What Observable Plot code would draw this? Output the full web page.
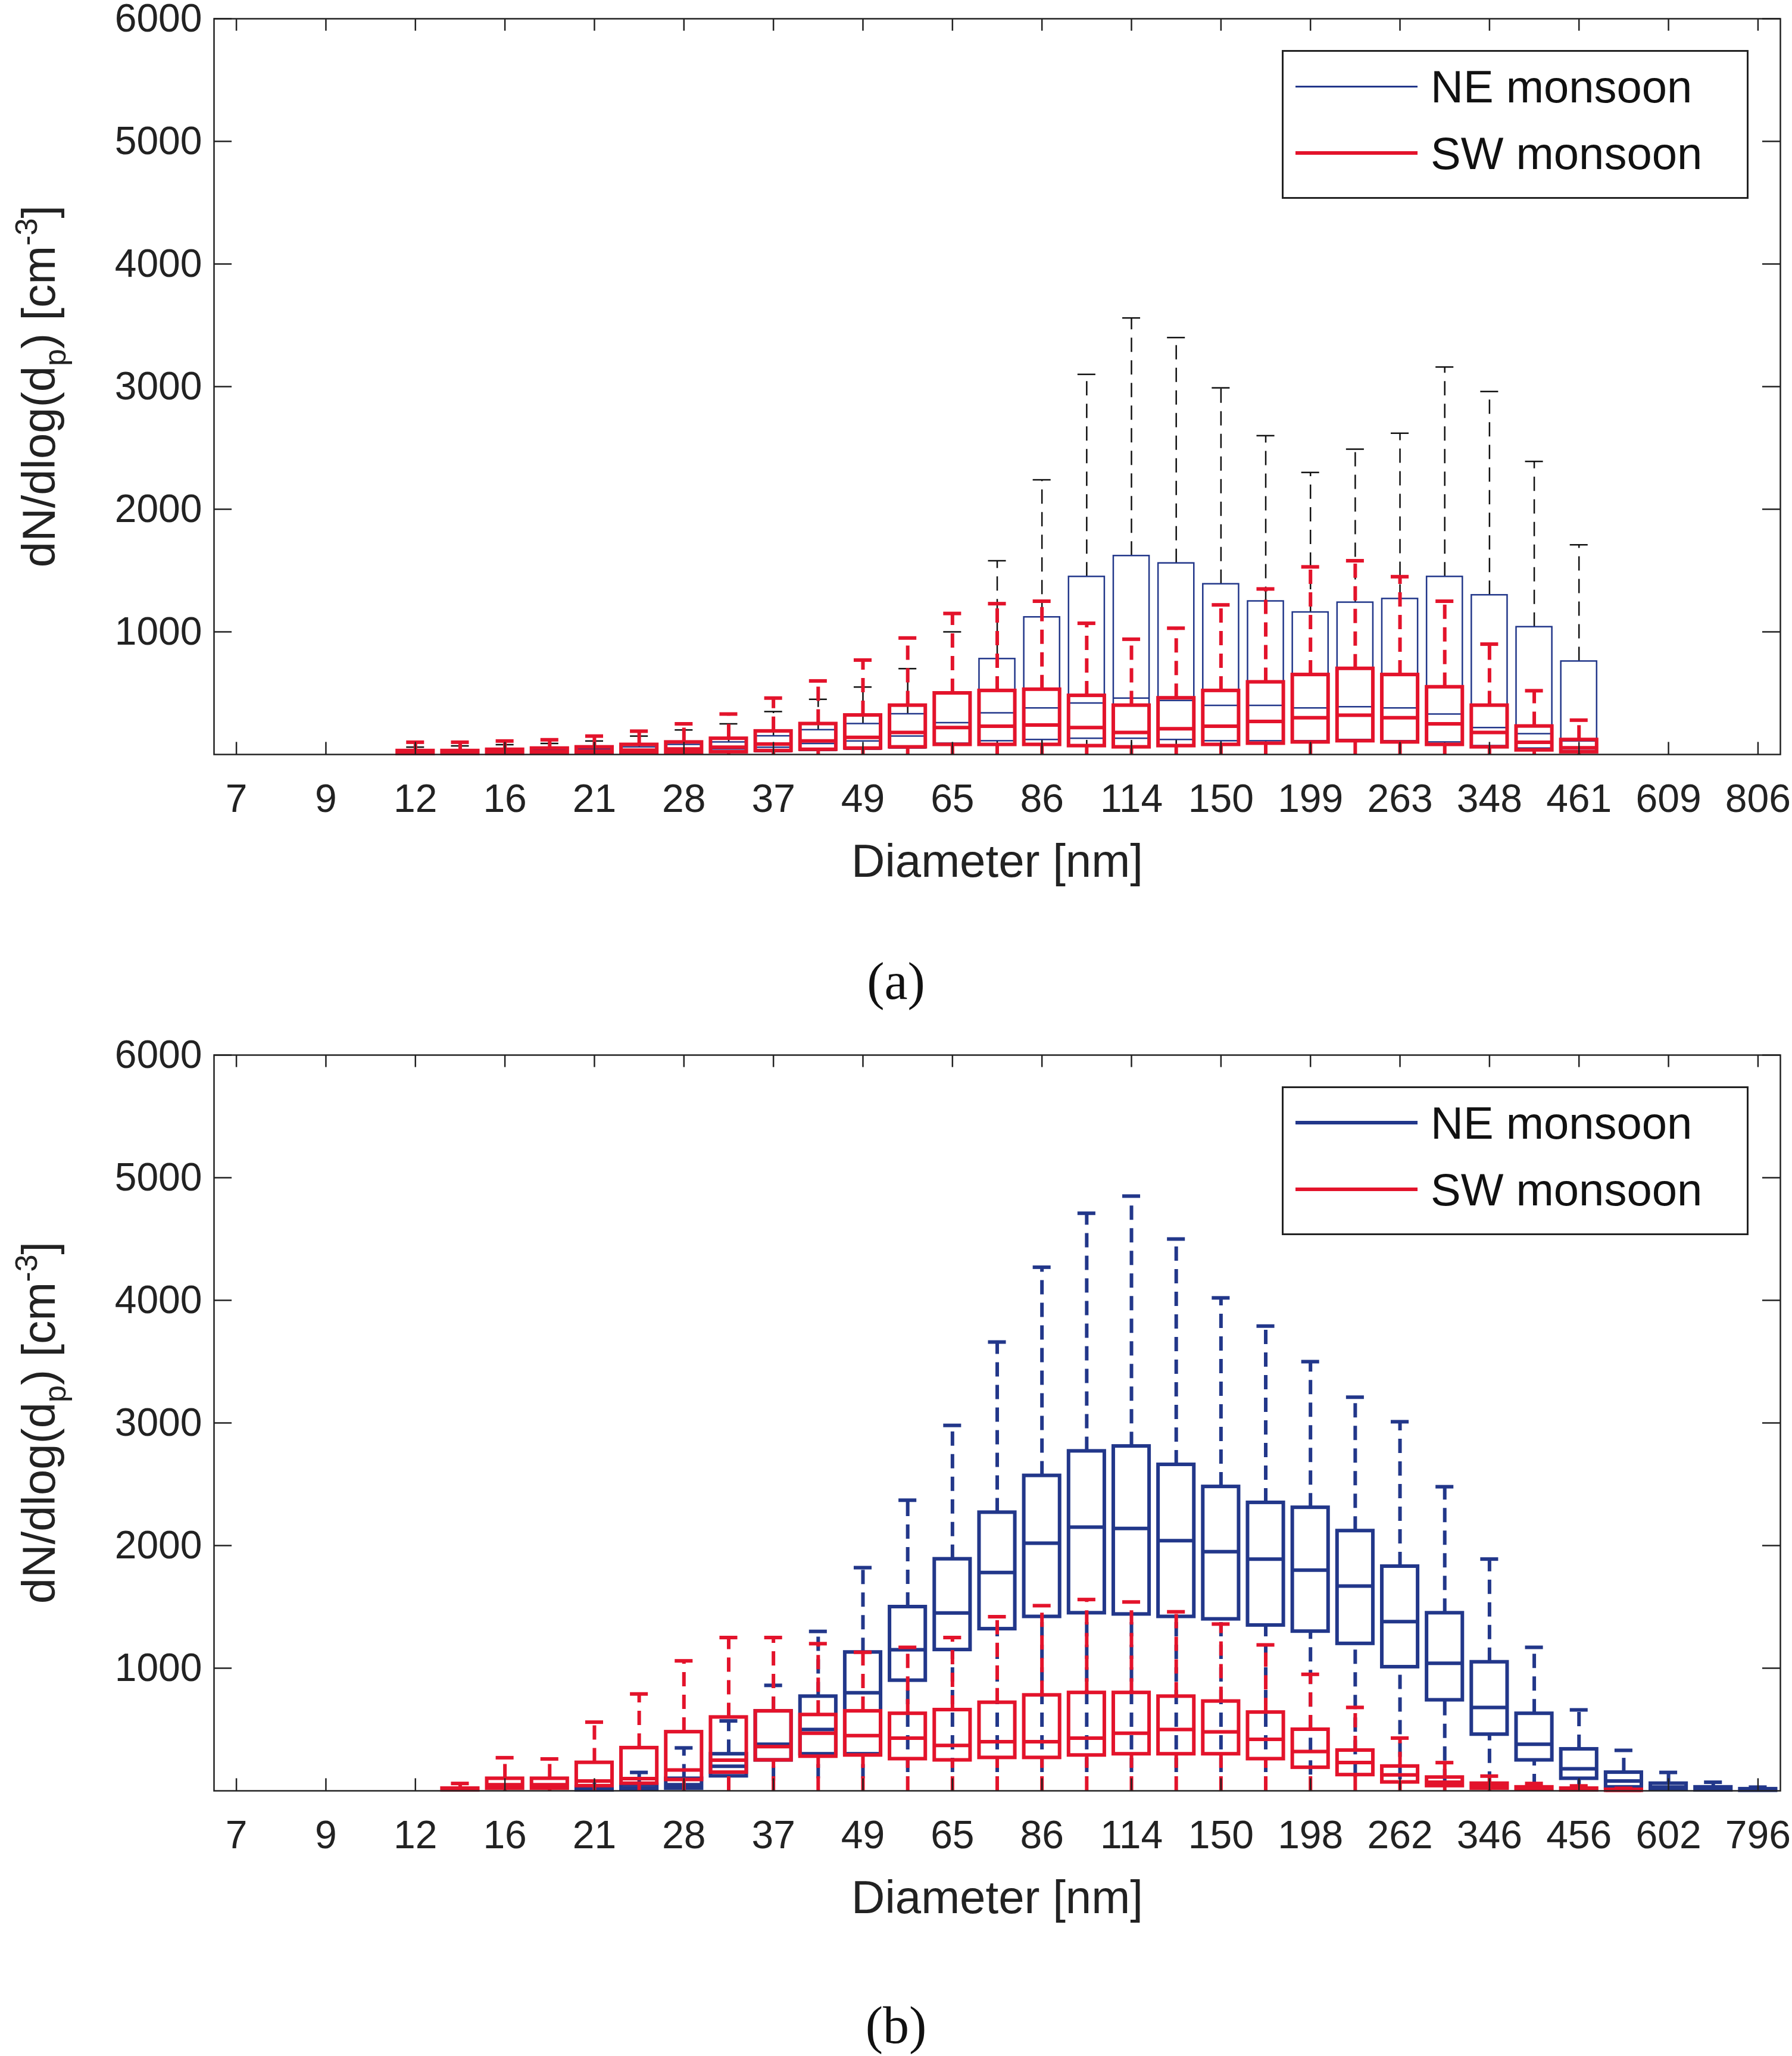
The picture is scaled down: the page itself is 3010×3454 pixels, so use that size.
<!DOCTYPE html>
<html><head><meta charset="utf-8">
<script src="https://cdn.jsdelivr.net/npm/d3@7"></script>
<script src="https://cdn.jsdelivr.net/npm/@observablehq/plot@0.6"></script>
<style>
body{margin:0;background:#fff;width:3010px;height:3454px;position:relative;font-family:"Liberation Sans",Arial,sans-serif}
.p{position:absolute;left:0}
.p svg{overflow:visible}
.cap{position:absolute;width:3010px;text-align:center;font-family:"Liberation Serif",serif;font-size:88px;color:#111}
.leg{position:absolute;left:2153px;width:778px;height:244px;border:3px solid #222;background:#fff;font-size:76px;color:#111}
.leg div{position:absolute;left:20px;height:100px;display:flex;align-items:center}
.leg span{display:inline-block;width:205px;margin-right:22px}
</style></head><body>
<div id="a" class="p" style="top:0"></div>
<div class="cap" style="top:1598px">(a)</div>
<div id="b" class="p" style="top:1741px"></div>
<div class="cap" style="top:3352px">(b)</div>
<script>
const diamA=["7","9","12","16","21","28","37","49","65","86","114","150","199","263","348","461","609","806"];
const diamB=["7","9","12","16","21","28","37","49","65","86","114","150","198","262","346","456","602","796"];
const yTicks=[1000,2000,3000,4000,5000,6000];
const N=null;
const neA_q1 =[N,N,N,N,3,4,5,5,7,10,12,15,20,30,40,50,90,110,120,130,130,120,110,110,110,120,110,100,70,50,30,N,N,N,N];
const neA_med=[N,N,N,N,10,12,15,17,20,25,35,45,60,90,110,150,260,340,380,420,460,440,400,400,380,390,380,330,220,170,110,N,N,N,N];
const neA_q3 =[N,N,N,N,20,25,30,35,45,60,80,100,150,200,250,330,500,780,1120,1450,1620,1560,1390,1250,1160,1240,1270,1450,1300,1040,760,N,N,N,N];
const neA_hi =[N,N,N,N,60,70,80,90,110,150,200,250,350,450,550,700,1000,1580,2240,3100,3560,3400,2990,2600,2300,2490,2620,3160,2960,2390,1710,N,N,N,N];
const swA_q1 =[N,N,N,N,5,5,6,8,10,12,15,20,30,40,50,60,80,80,80,70,60,70,80,90,100,110,100,80,60,35,20,N,N,N,N];
const swA_med=[N,N,N,N,15,15,18,22,28,35,45,60,85,110,140,180,220,230,240,220,180,210,230,270,300,320,300,250,180,100,55,N,N,N,N];
const swA_q3 =[N,N,N,N,30,30,40,50,60,80,100,130,190,250,320,400,500,520,530,480,400,460,520,590,650,700,650,550,400,230,120,N,N,N,N];
const swA_hi =[N,N,N,N,100,100,110,120,150,190,250,330,460,600,770,950,1150,1230,1250,1070,940,1030,1220,1350,1530,1580,1450,1250,900,520,280,N,N,N,N];
const neB_q1 =[N,N,N,N,N,N,N,N,5,10,20,120,250,300,300,900,1150,1320,1420,1450,1440,1420,1400,1350,1300,1200,1010,740,460,250,100,30,10,5,2];
const neB_med=[N,N,N,N,N,N,N,N,15,25,50,200,380,500,800,1150,1450,1780,2020,2150,2140,2040,1950,1890,1800,1670,1380,1040,680,380,180,80,30,15,8];
const neB_q3 =[N,N,N,N,N,N,N,N,30,50,100,300,650,770,1130,1500,1890,2270,2570,2770,2810,2660,2480,2350,2310,2120,1830,1450,1050,630,340,150,60,30,15];
const neB_hi =[N,N,N,N,N,N,N,N,80,150,350,570,860,1300,1820,2370,2980,3660,4270,4710,4850,4500,4020,3790,3500,3210,3010,2480,1890,1170,660,330,150,70,30];
const neB_lo =[N,N,N,N,N,N,N,N,0,0,0,20,80,100,100,150,150,150,150,150,150,150,150,150,130,110,90,60,40,20,10,3,1,0,0];
const swB_q1 =[N,N,N,N,N,5,20,20,40,60,90,150,250,280,290,260,250,270,270,290,300,300,300,260,190,130,70,40,20,10,5,2,N,N,N];
const swB_med=[N,N,N,N,N,10,50,50,80,100,170,250,360,470,450,430,370,400,400,430,470,500,480,420,320,230,130,70,40,20,10,5,N,N,N];
const swB_q3 =[N,N,N,N,N,20,100,100,230,350,480,600,650,620,650,630,660,720,780,800,800,770,730,640,500,330,200,110,60,30,20,10,N,N,N];
const swB_hi =[N,N,N,N,N,60,270,260,560,790,1060,1250,1250,1200,1130,1170,1250,1420,1510,1560,1540,1460,1360,1190,950,680,430,230,120,60,40,20,N,N,N];

const BLUE="#22378a", RED="#e3132b";
function rows(q1,med,q3,hi,lo){const r=[];for(let i=0;i<35;i++){if(q3[i]==null)continue;r.push({i,q1:q1[i],med:med[i],q3:q3[i],hi:hi[i],lo:lo?lo[i]:0});}return r;}
function boxMarks(d,color,sw,wcolor){
  const o={x1:r=>r.i-0.4,x2:r=>r.i+0.4};
  return [
    Plot.ruleX(d,{x:"i",y1:"q3",y2:"hi",stroke:wcolor,strokeWidth:sw,strokeDasharray:"24,14"}),
    Plot.ruleX(d,{x:"i",y1:"lo",y2:"q1",stroke:wcolor,strokeWidth:sw,strokeDasharray:"24,14"}),
    Plot.ruleY(d,{y:"hi",x1:r=>r.i-0.2,x2:r=>r.i+0.2,stroke:wcolor,strokeWidth:sw}),
    Plot.rect(d,{...o,y1:"q1",y2:"q3",fill:"none",stroke:color,strokeWidth:sw}),
    Plot.ruleY(d,{y:"med",...o,stroke:color,strokeWidth:sw})
  ];
}
function panel(id,labels,ne,sw,neSw,neW){
  const idx=labels.map((_,k)=>2*k);
  const p=Plot.plot({
    width:3010,height:1500,marginLeft:359,marginRight:20,marginTop:31,marginBottom:233,
    style:{fontFamily:"Liberation Sans, Arial, sans-serif",fontSize:"66px",color:"#222",background:"#fff",overflow:"visible"},
    x:{domain:[-0.5,34.5],ticks:idx,tickFormat:v=>labels[v/2],tickSize:0,tickPadding:50,label:"Diameter [nm]",labelArrow:"none",labelAnchor:"center",labelOffset:205},
    y:{domain:[0,6000],ticks:yTicks,tickFormat:d=>String(d),tickSize:0,tickPadding:20,label:null},
    marks:[
      ...boxMarks(ne,BLUE,neSw,neW),
      ...boxMarks(sw,RED,6,RED),
      Plot.ruleX(idx,{x:d=>d,y1:0,y2:100,stroke:"#222",strokeWidth:2.5}),
      Plot.ruleX(idx,{x:d=>d,y1:5900,y2:6000,stroke:"#222",strokeWidth:2.5}),
      Plot.ruleY(yTicks,{y:d=>d,x1:-0.5,x2:-0.1,stroke:"#222",strokeWidth:2.5}),
      Plot.ruleY(yTicks,{y:d=>d,x1:34.1,x2:34.5,stroke:"#222",strokeWidth:2.5}),
      Plot.frame({stroke:"#222",strokeWidth:2.5})
    ]
  });
  p.querySelectorAll("[aria-label='x-axis label']").forEach(e=>e.setAttribute("font-size","78px"));
  const el=document.getElementById(id); el.appendChild(p);
  const t=document.createElement("div");
  t.style.cssText="position:absolute;left:0;top:31px;width:120px;height:1236px;";
  t.innerHTML='<svg width="120" height="1236"><text transform="translate(92,618) rotate(-90)" text-anchor="middle" font-size="78" font-family="Liberation Sans, Arial, sans-serif" fill="#222">dN/dlog(d<tspan font-size="52" dy="18">p</tspan><tspan dy="-18">) [cm</tspan><tspan font-size="52" dy="-30">-3</tspan><tspan dy="30">]</tspan></text></svg>';
  el.appendChild(t);
}
panel("a",diamA,rows(neA_q1,neA_med,neA_q3,neA_hi),rows(swA_q1,swA_med,swA_q3,swA_hi),2.5,"#111");
panel("b",diamB,rows(neB_q1,neB_med,neB_q3,neB_hi,neB_lo),rows(swB_q1,swB_med,swB_q3,swB_hi),6,BLUE);
function legend(top,neW){
  const l=document.createElement("div");l.className="leg";l.style.top=top+"px";
  l.innerHTML=`<div style="top:8px"><span style="border-top:${neW}px solid ${BLUE}"></span>NE monsoon</div><div style="top:120px"><span style="border-top:6px solid ${RED}"></span>SW monsoon</div>`;
  document.body.appendChild(l);
}
legend(84,3);legend(1741+84,6);
</script></body></html>
